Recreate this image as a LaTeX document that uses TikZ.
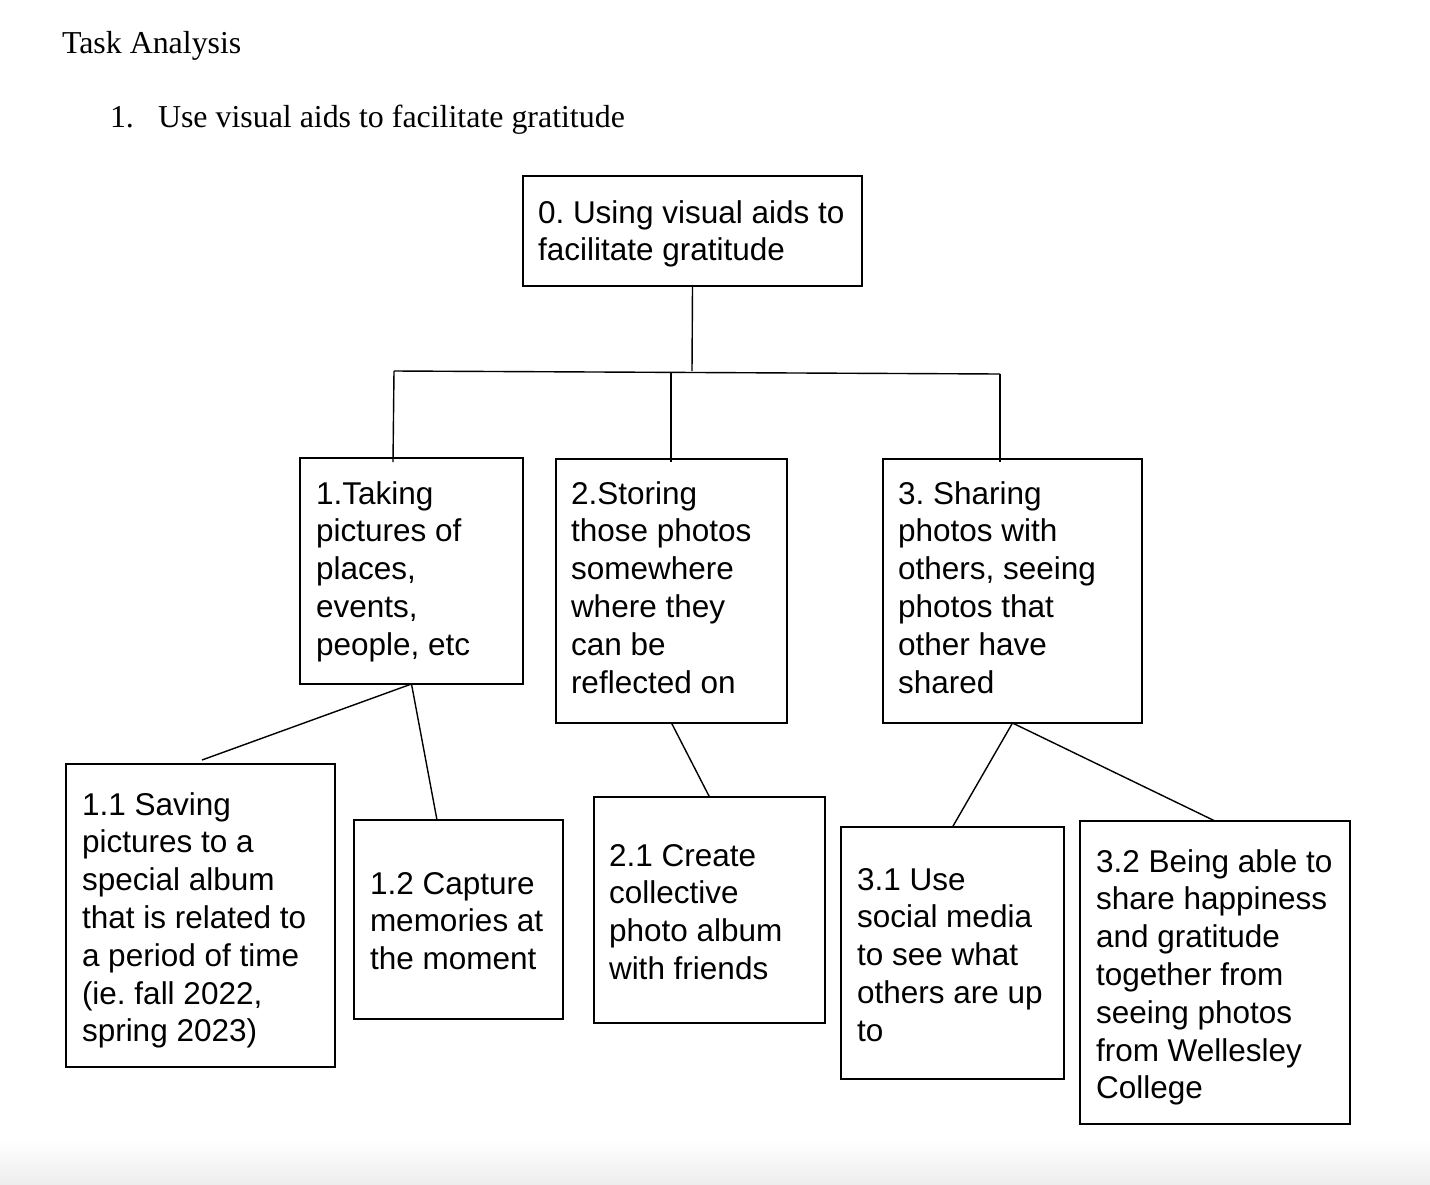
\documentclass[tikz,border=0pt]{standalone}
\usepackage{fontspec}
\setmainfont{Liberation Serif}
\newfontfamily\arialf{Liberation Sans}
\usetikzlibrary{calc}
\frenchspacing
\tikzset{
  x=1pt, y=-1pt,
  box/.style={draw, line width=1.4pt, inner sep=0pt, outer sep=0pt, anchor=north west},
  txt/.style={inner sep=0pt, outer sep=0pt, anchor=north west, align=left,
     font={\arialf\frenchspacing\fontsize{31.5}{37.8}\selectfont}},
  ttl/.style={inner sep=0pt, outer sep=0pt, anchor=base west,
     font={\frenchspacing\fontsize{31.9}{37}\selectfont}},
  conn/.style={line width=1.4pt},
}
\newcommand{\stt}{\rule{0pt}{25pt}}
\begin{document}
\begin{tikzpicture}
\useasboundingbox (0,0) rectangle (1430,1184);
\fill[white] (0,0) rectangle (1430,1184);
\shade[top color=white, bottom color=black!7] (0,1140) rectangle (1430,1184);

% titles
\node[ttl] (title) at (62,53) {Task Analysis};
\node[ttl] (num) at (110,127) {1.};
\node[ttl] (item) at (158,127) {Use visual aids to facilitate gratitude};

% boxes
\node[box, minimum width=339, minimum height=110] (b0) at (523,176) {};
\node[box, minimum width=223, minimum height=226] (b1) at (300,458) {};
\node[box, minimum width=231, minimum height=264] (b2) at (556,459) {};
\node[box, minimum width=259, minimum height=264] (b3) at (883,459) {};
\node[box, minimum width=269, minimum height=303] (b11) at (66,764) {};
\node[box, minimum width=209, minimum height=199] (b12) at (354,820) {};
\node[box, minimum width=231, minimum height=226] (b21) at (594,797) {};
\node[box, minimum width=223, minimum height=252] (b31) at (841,827) {};
\node[box, minimum width=270, minimum height=303] (b32) at (1080,821) {};

% texts
\node[txt] (t0) at (538,198) {\stt 0. Using visual aids to\\facilitate gratitude};
\node[txt] (t1) at (316,479) {\stt 1.Taking\\pictures of\\places,\\events,\\people, etc};
\node[txt] (t2) at (571,479) {\stt 2.Storing\\those photos\\somewhere\\where they\\can be\\reflected on};
\node[txt] (t3) at (898,479) {\stt 3. Sharing\\photos with\\others, seeing\\photos that\\other have\\shared};
\node[txt] (t11) at (82,790) {\stt 1.1 Saving\\pictures to a\\special album\\that is related to\\a period of time\\(ie. fall 2022,\\spring 2023)};
\node[txt] (t12) at (370,869) {\stt 1.2 Capture\\memories at\\the moment};
\node[txt] (t21) at (609,841) {\stt 2.1 Create\\collective\\photo album\\with friends};
\node[txt] (t31) at (857,865) {\stt 3.1 Use\\social media\\to see what\\others are up\\to};
\node[txt] (t32) at (1096,847) {\stt 3.2 Being able to\\share happiness\\and gratitude\\together from\\seeing photos\\from Wellesley\\College};

% connector points
\coordinate (j0) at (692,371);
\coordinate (jl) at (394,371);
\coordinate (jm) at (671,373);
\coordinate (jr) at (1000,374);
\coordinate (d1) at (393,462);
\coordinate (d2) at (671,462);
\coordinate (d3) at (1000,462);
\coordinate (e11) at (202,760);
\coordinate (e12) at (437,820);

% connectors
\draw[conn] (b0.south) -- (j0);
\draw[conn] (jl) -- (jr);
\draw[conn] (jl) -- (d1);
\draw[conn] (jm) -- (d2);
\draw[conn] (jr) -- (d3);
\draw[conn] (b1.south) -- (e11);
\draw[conn] (b1.south) -- (e12);
\draw[conn] (b2.south) -- (b21.north);
\draw[conn] (b3.south) -- (b31.north);
\draw[conn] (b3.south) -- (b32.north);
\end{tikzpicture}
\end{document}
